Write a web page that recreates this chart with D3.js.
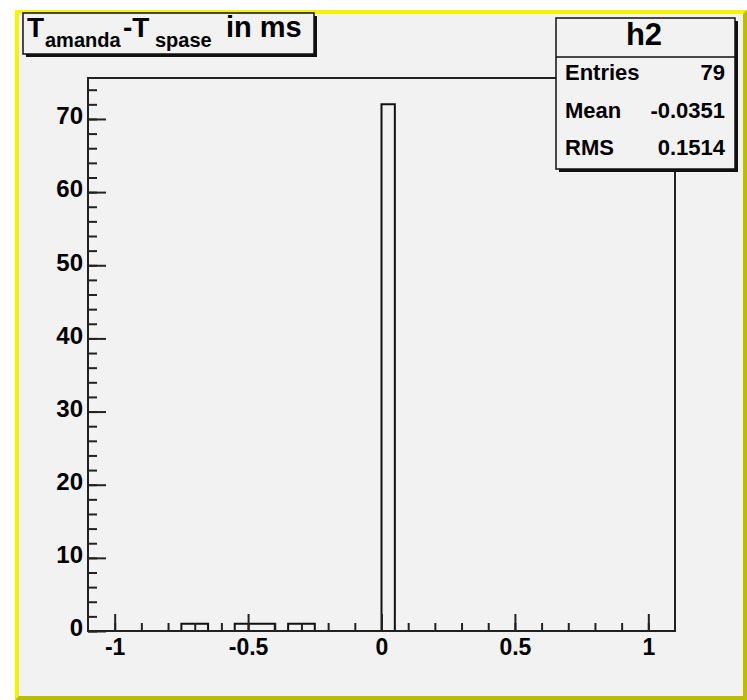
<!DOCTYPE html>
<html>
<head>
<meta charset="utf-8">
<script src="https://cdn.jsdelivr.net/npm/d3@7/dist/d3.min.js"></script>
<style>
  body { margin: 0; background: #fff; }
  text { font-family: "Liberation Sans", Arial, Helvetica, sans-serif; font-weight: bold; fill: #000; }
</style>
</head>
<body>
<div id="chart"></div>
<script>
// histogram h2: 44 bins of 0.05 between -1.1 and 1.1
const xRange = [-1.1, 1.1];
const binWidth = 0.05;
const counts = [
  0, 0, 0, 0, 0, 0, 0, 1, 1, 0,
  0, 1, 1, 1, 0, 1, 1, 0, 0, 0,
  0, 0, 72, 0, 0, 0, 0, 0, 0, 0,
  0, 0, 0, 0, 0, 0, 0, 0, 0, 0,
  0, 0, 0, 0
];
const yMax = 75.6;

const xMajorTicks = [-1, -0.5, 0, 0.5, 1];
const xMinorTicks = [-1, -0.9, -0.8, -0.7, -0.6, -0.5, -0.4, -0.3, -0.2, -0.1, 0,
                     0.1, 0.2, 0.3, 0.4, 0.5, 0.6, 0.7, 0.8, 0.9, 1];
const yMajorTicks = [0, 10, 20, 30, 40, 50, 60, 70];
const yMinorTicks = [0, 2, 4, 6, 8, 10, 12, 14, 16, 18, 20, 22, 24, 26, 28, 30, 32, 34, 36,
                     38, 40, 42, 44, 46, 48, 50, 52, 54, 56, 58, 60, 62, 64, 66, 68, 70, 72, 74];

const statsName = "h2";
const statsLabels = ["Entries", "Mean", "RMS"];
const statsValues = ["79", "-0.0351", "0.1514"];

const width = 747, height = 700;
const frame = { l: 88, r: 675, t: 78, b: 631 };

const svg = d3.select("#chart").append("svg")
  .attr("width", width).attr("height", height);

// canvas with ROOT style bevelled yellow border
const cv = { x0: 15, y0: 10, x1: 747, y1: 700, bw: 4 };
svg.append("rect").attr("x", cv.x0).attr("y", cv.y0)
  .attr("width", cv.x1 - cv.x0).attr("height", cv.y1 - cv.y0).attr("fill", "#f2f2f2");
svg.append("path")
  .attr("d", `M${cv.x0},${cv.y1} L${cv.x0},${cv.y0} L${cv.x1},${cv.y0} L${cv.x1 - cv.bw},${cv.y0 + cv.bw} L${cv.x0 + cv.bw},${cv.y0 + cv.bw} L${cv.x0 + cv.bw},${cv.y1 - cv.bw} Z`)
  .attr("fill", "#f4f400");
svg.append("path")
  .attr("d", `M${cv.x0},${cv.y1} L${cv.x1},${cv.y1} L${cv.x1},${cv.y0} L${cv.x1 - cv.bw},${cv.y0 + cv.bw} L${cv.x1 - cv.bw},${cv.y1 - cv.bw} L${cv.x0 + cv.bw},${cv.y1 - cv.bw} Z`)
  .attr("fill", "#bcbc00");

const x = d3.scaleLinear().domain(xRange).range([frame.l, frame.r]);
const y = d3.scaleLinear().domain([0, yMax]).range([frame.b, frame.t]);

// histogram outline as a step line
const pts = [[xRange[0], 0]];
counts.forEach((c, i) => pts.push([xRange[0] + i * binWidth, c]));
pts.push([xRange[1], 0]);
const line = d3.line().x(d => x(d[0])).y(d => y(d[1])).curve(d3.curveStepAfter);
svg.append("path").datum(pts)
  .attr("d", line).attr("fill", "none")
  .attr("stroke", "#111").attr("stroke-width", 2);

// axes: ticks point into the frame
const axisStyle = (size) => g => {
  g.select(".domain").remove();
  g.selectAll("line").attr("stroke", "#222").attr("stroke-width", 2);
  g.selectAll("text").attr("font-size", size).attr("font-family", null).attr("fill", "#000");
};

svg.append("g").attr("transform", `translate(0,${frame.b})`)
  .call(d3.axisBottom(x).tickValues(xMinorTicks).tickSizeInner(-8).tickSizeOuter(0).tickFormat(""))
  .call(axisStyle(23));
svg.append("g").attr("transform", `translate(0,${frame.b})`)
  .call(d3.axisBottom(x).tickValues(xMajorTicks).tickSizeInner(-17).tickSizeOuter(0)
    .tickPadding(8).tickFormat(d => String(d)))
  .call(axisStyle(23));

svg.append("g").attr("transform", `translate(${frame.l},0)`)
  .call(d3.axisLeft(y).tickValues(yMinorTicks).tickSizeInner(-9).tickSizeOuter(0).tickFormat(""))
  .call(axisStyle(24));
svg.append("g").attr("transform", `translate(${frame.l},0)`)
  .call(d3.axisLeft(y).tickValues(yMajorTicks).tickSizeInner(-18).tickSizeOuter(0)
    .tickPadding(5).tickFormat(d => String(d)))
  .call(axisStyle(24))
  .call(g => g.selectAll("text").attr("dy", "0.2em"));

// frame
svg.append("rect")
  .attr("x", frame.l).attr("y", frame.t)
  .attr("width", frame.r - frame.l).attr("height", frame.b - frame.t)
  .attr("fill", "none").attr("stroke", "#222").attr("stroke-width", 2);

// pave with shadow
function pave(x0, y0, x1, y1) {
  svg.append("rect").attr("x", x0 + 3).attr("y", y0 + 3)
    .attr("width", x1 - x0).attr("height", y1 - y0).attr("fill", "#111");
  svg.append("rect").attr("x", x0).attr("y", y0)
    .attr("width", x1 - x0).attr("height", y1 - y0)
    .attr("fill", "#f2f2f2").attr("stroke", "#111").attr("stroke-width", 1.5);
}

// title
pave(23, 13, 314, 54);
const title = svg.append("text").attr("y", 37).attr("font-size", 28);
title.append("tspan").attr("x", 27).text("T");
title.append("tspan").attr("x", 45).attr("font-size", 20).attr("dy", 10).text("amanda");
title.append("tspan").attr("x", 123).attr("dy", -10).text("-T");
title.append("tspan").attr("x", 155).attr("font-size", 20).attr("dy", 10).text("spase");
title.append("tspan").attr("x", 226).attr("dy", -10).attr("font-size", 29).text("in ms");

// stats box
pave(556, 18, 735, 169);
svg.append("line").attr("x1", 556).attr("x2", 735).attr("y1", 57).attr("y2", 57)
  .attr("stroke", "#111").attr("stroke-width", 1.5);
svg.append("text").attr("x", 644).attr("y", 45).attr("text-anchor", "middle")
  .attr("font-size", 31).text(statsName);
statsLabels.forEach((lab, i) => {
  const by = 80 + i * 37.5;
  svg.append("text").attr("x", 565).attr("y", by).attr("font-size", 22).text(lab);
  svg.append("text").attr("x", 725).attr("y", by).attr("font-size", 22)
    .attr("text-anchor", "end").text(statsValues[i]);
});
</script>
</body>
</html>
